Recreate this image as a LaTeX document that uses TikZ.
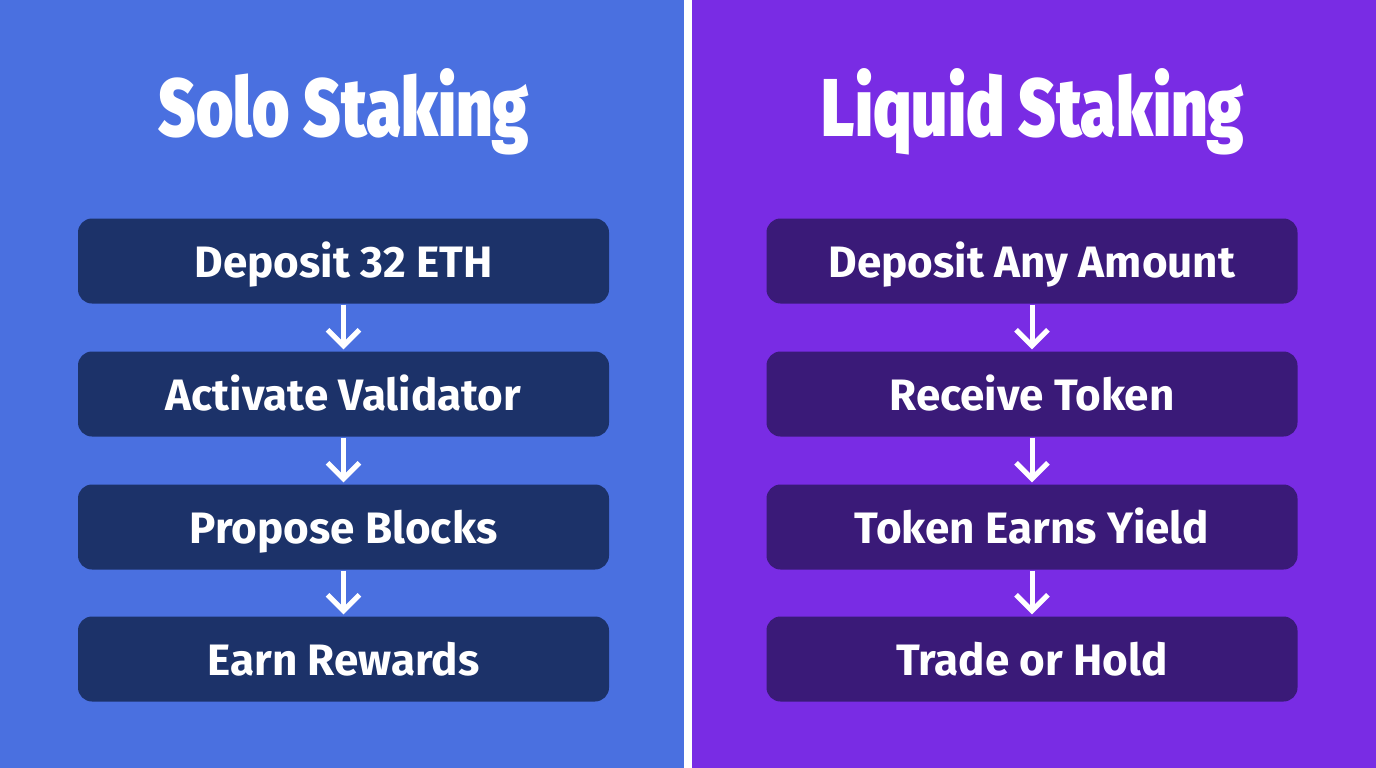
\documentclass[tikz,border=0pt]{standalone}
\usepackage{fontspec}
\setmainfont{Fira Sans}
\newfontfamily\titlefont[FakeStretch=0.78]{Fira Sans Black}
\newfontfamily\boxfont{Fira Sans Bold}
\usetikzlibrary{arrows.meta}
\definecolor{bgblue}{RGB}{74,112,224}
\definecolor{bgpurple}{RGB}{121,44,228}
\definecolor{boxblue}{RGB}{28,50,105}
\definecolor{boxpurple}{RGB}{58,26,120}
\tikzset{
  stepbox/.style={rounded corners=14pt, minimum width=531pt, minimum height=85pt, inner sep=0pt, text=white, text height=36pt, text depth=4pt, font=\boxfont\fontsize{44}{48}\selectfont},
  title/.style={text=white, font=\titlefont\fontsize{82}{90}\selectfont, inner sep=0pt},
  flow/.style={draw=white, line width=5pt, -{Straight Barb[length=16pt,width=32pt,line width=5pt]}, shorten <=1pt, shorten >=2pt}
}
\begin{document}
\begin{tikzpicture}[x=1pt,y=-1pt]
\useasboundingbox (0,0) rectangle (1376,768);
\fill[bgblue] (0,0) rectangle (684,768);
\fill[bgpurple] (692,0) rectangle (1376,768);
\fill[white] (684,0) rectangle (692,768);

\node[title] (t1) at (344,112) {Solo Staking};
\node[title] (t2) at (1033,112) {Liquid Staking};

\node[stepbox, fill=boxblue] (a1) at (343.5,261) {Deposit 32 ETH};
\node[stepbox, fill=boxblue] (a2) at (343.5,394) {Activate Validator};
\node[stepbox, fill=boxblue] (a3) at (343.5,527) {Propose Blocks};
\node[stepbox, fill=boxblue] (a4) at (343.5,659) {Earn Rewards};

\node[stepbox, fill=boxpurple] (b1) at (1032,261) {Deposit Any Amount};
\node[stepbox, fill=boxpurple] (b2) at (1032,394) {Receive Token};
\node[stepbox, fill=boxpurple] (b3) at (1032,527) {Token Earns Yield};
\node[stepbox, fill=boxpurple] (b4) at (1032,659) {Trade or Hold};

\draw[flow] (a1) -- (a2);
\draw[flow] (a2) -- (a3);
\draw[flow] (a3) -- (a4);
\draw[flow] (b1) -- (b2);
\draw[flow] (b2) -- (b3);
\draw[flow] (b3) -- (b4);
\end{tikzpicture}
\end{document}
